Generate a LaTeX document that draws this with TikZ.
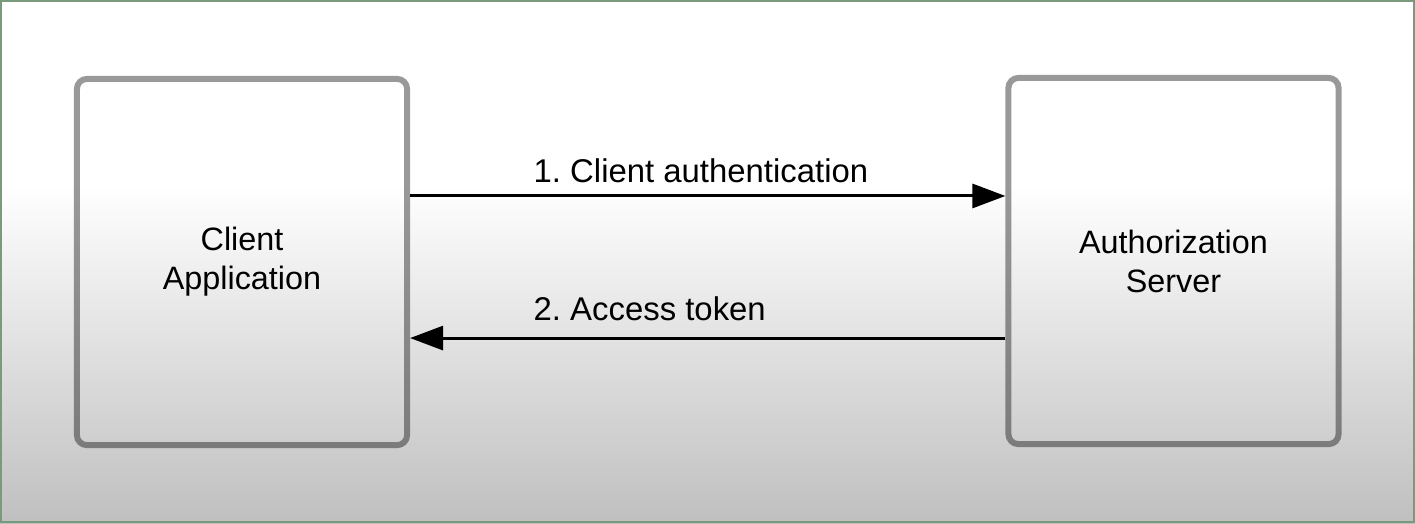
\documentclass[tikz,border=0pt]{standalone}
\usepackage{fontspec}
\setmainfont{Liberation Sans}
\usetikzlibrary{arrows.meta}
\definecolor{authframe}{HTML}{7A9A7C}
\frenchspacing
\tikzset{
  authbox/.style={draw=black,draw opacity=0.4,line width=0.06cm,rounded corners=0.1cm,minimum width=3.3cm,minimum height=3.66cm,align=center,font=\fontsize{9.2}{11.1}\selectfont},
  authmsg/.style={-{Triangle[length=0.33cm,width=0.24cm]},draw=black,line width=0.03cm},
  authlabel/.style={anchor=base west,inner sep=0pt,font=\fontsize{9.35}{11.1}\selectfont}
}
\begin{document}
\begin{tikzpicture}[x=0.01cm,y=-0.01cm]
\useasboundingbox (0,0) rectangle (1415,523);
\fill[white] (0,0) rectangle (1415,185);
\shade[top color=white,bottom color=gray!50] (0,185) rectangle (1415,523);
\draw[authframe,line width=0.02cm] (1,1) rectangle (1414,522);
\node[authbox] (cl) at (242,262) {Client\\Application};
\node[authbox] (as) at (1173.5,261) {Authorization\\Server};
\draw[authmsg] ([yshift=0.66cm]cl.east) -- ([yshift=0.66cm]cl.east -| as.west);
\draw[authmsg] ([yshift=-0.77cm]as.west) -- ([yshift=-0.77cm]as.west -| cl.east);
\node[authlabel] (m1) at (533,182) {1. Client authentication};
\node[authlabel] (m2) at (533,320) {2. Access token};
\end{tikzpicture}
\end{document}
